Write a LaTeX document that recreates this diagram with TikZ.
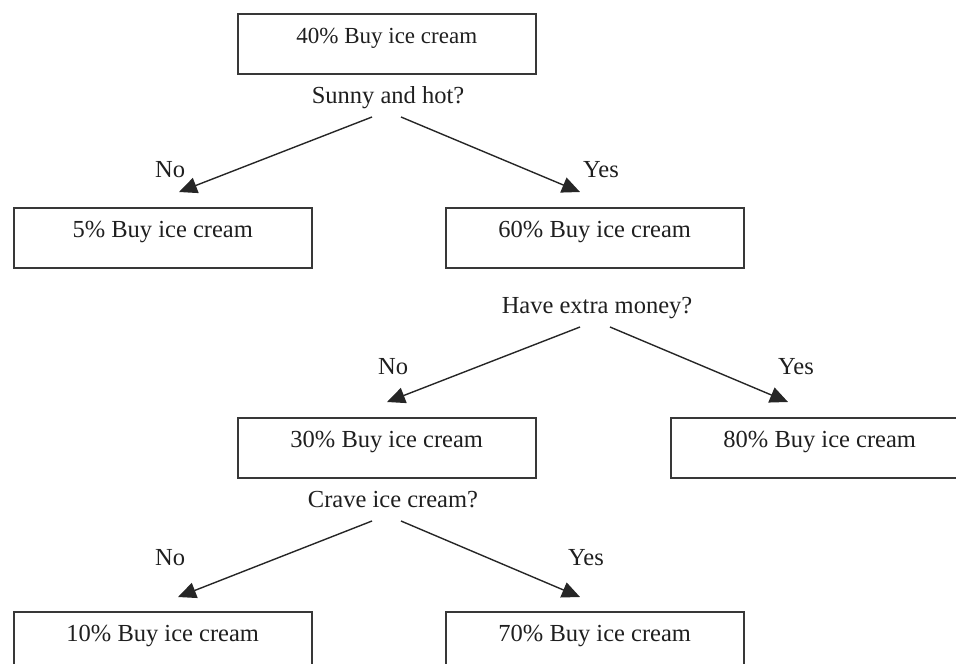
\documentclass[tikz,border=0pt]{standalone}
\usepackage{fontspec}
\setmainfont{Liberation Serif}
\usetikzlibrary{arrows.meta}

\tikzset{
  outcome/.style={draw=black!78, line width=1.5pt, rectangle, anchor=north west,
    minimum width=298pt, inner xsep=0pt, inner ysep=0pt,
    text height=30pt, text depth=30pt, text=black!88,
    font=\fontsize{24.5}{28}\selectfont},
  question/.style={anchor=base, inner sep=0pt, text=black!88,
    font=\fontsize{24.5}{28}\selectfont},
  answer/.style={anchor=base west, inner sep=0pt, text=black!88,
    font=\fontsize{24.5}{28}\selectfont},
  branch/.style={draw=black!85, line width=1.4pt,
    -{Triangle[length=18pt,width=16pt]}},
}

\begin{document}
\begin{tikzpicture}[x=1pt, y=-1pt]
  \useasboundingbox (0,0) rectangle (956,664);
  \clip (0,0) rectangle (956,664);

  % Outcome boxes
  \node[outcome, font=\fontsize{23}{26}\selectfont] (b40) at (237,13) {40\% Buy ice cream};
  \node[outcome] (b5)  at (13,207)  {5\% Buy ice cream};
  \node[outcome] (b60) at (445,207) {60\% Buy ice cream};
  \node[outcome] (b30) at (237,417) {30\% Buy ice cream};
  \node[outcome] (b80) at (670,417) {80\% Buy ice cream};
  \node[outcome] (b10) at (13,611)  {10\% Buy ice cream};
  \node[outcome] (b70) at (445,611) {70\% Buy ice cream};

  % Questions
  \node[question] (q1) at (388,103) {Sunny and hot?};
  \node[question] (q2) at (597,313) {Have extra money?};
  \node[question] (q3) at (393,507) {Crave ice cream?};

  % Answer labels
  \node[answer] (n1) at (155,177) {No};
  \node[answer] (y1) at (583,177) {Yes};
  \node[answer] (n2) at (378,374) {No};
  \node[answer] (y2) at (778,374) {Yes};
  \node[answer] (n3) at (155,565) {No};
  \node[answer] (y3) at (568,565) {Yes};

  % Branch end points
  \coordinate (q1l) at (372,117);
  \coordinate (q1r) at (401,117);
  \coordinate (t5)  at (179,192);
  \coordinate (t60) at (580,192);
  \coordinate (q2l) at (580,327);
  \coordinate (q2r) at (610,327);
  \coordinate (t30) at (387,402);
  \coordinate (t80) at (788,402);
  \coordinate (q3l) at (372,521);
  \coordinate (q3r) at (401,521);
  \coordinate (t10) at (178,597);
  \coordinate (t70) at (580,597);

  % Branches
  \draw[branch] (q1l) -- (t5);
  \draw[branch] (q1r) -- (t60);
  \draw[branch] (q2l) -- (t30);
  \draw[branch] (q2r) -- (t80);
  \draw[branch] (q3l) -- (t10);
  \draw[branch] (q3r) -- (t70);
\end{tikzpicture}
\end{document}
